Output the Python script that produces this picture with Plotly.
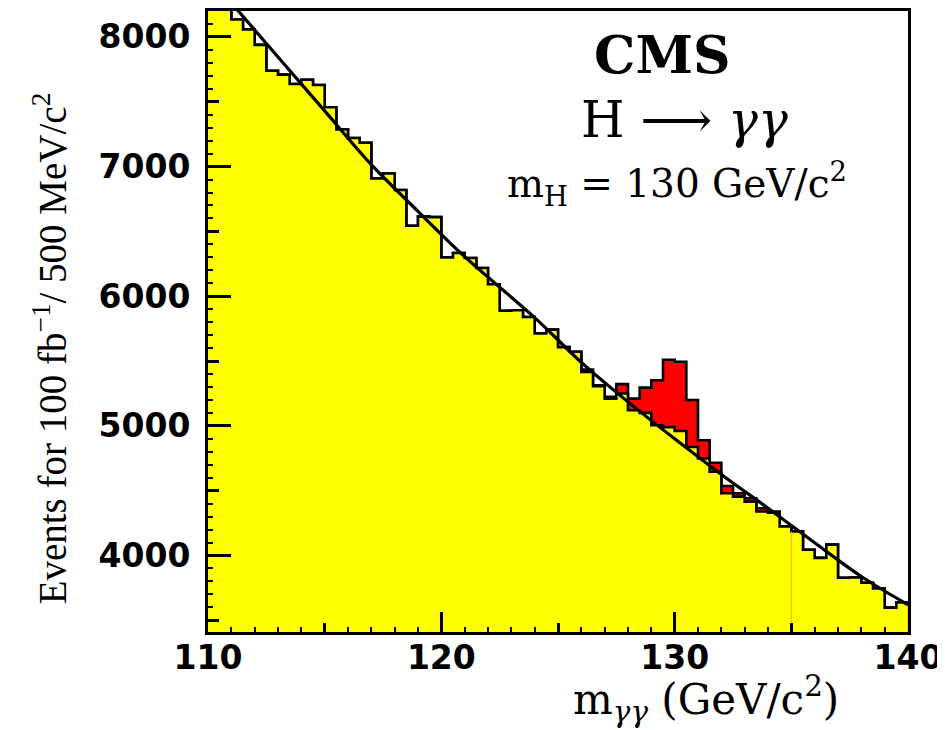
import plotly.graph_objects as go

# ---------------- data ----------------
bin_width = 0.5
mass_low = [110 + bin_width * i for i in range(60)]   # lower bin edges, GeV/c^2

background = [
    8350, 8260, 8135, 8058, 7939, 7739, 7709, 7637, 7670, 7629,
    7458, 7287, 7220, 7184, 6908, 6946, 6819, 6543, 6614, 6610,
    6300, 6333, 6295, 6218, 6092, 5888, 5892, 5840, 5713, 5742,
    5607, 5572, 5415, 5305, 5210, 5250, 5120, 5100, 5005, 4990,
    4960, 4837, 4748, 4646, 4480, 4454, 4416, 4340, 4331, 4224,
    4186, 4045, 3982, 4084, 3828, 3830, 3790, 3746, 3598, 3637,
]

signal = [
    0, 0, 0, 0, 0, 0, 0, 0, 0, 0,
    0, 0, 0, 0, 0, 0, 0, 0, 0, 0,
    0, 0, 0, 0, 0, 0, 0, 0, 0, 0,
    0, 0, 20, 8, 15, 72, 90, 195, 347, 520,
    535, 363, 141, 70, 56, 26, 26, 25, 8, 0,
    0, 0, 0, 0, 0, 0, 0, 0, 0, 0,
]

fit_mass = [110, 111.3, 113, 115, 117, 119, 121, 124, 126, 128, 130, 132, 134, 136, 138, 140]
fit_vals = [8480, 8200, 7845, 7430, 7015, 6655, 6305, 5835, 5490, 5185, 4900, 4625, 4365, 4098, 3838, 3620]

x_range = [110, 140]
y_range = [3410, 8200]
x_major = [110, 120, 130, 140]
x_medium = [115, 125, 135]
y_major = [4000, 5000, 6000, 7000, 8000]
y_medium = [3500, 4500, 5500, 6500, 7500]

# ---------------- build ----------------
total = [b + s for b, s in zip(background, signal)]
edges = mass_low + [mass_low[-1] + bin_width]

fig = go.Figure()

fig.add_trace(go.Scatter(
    x=edges, y=total + [total[-1]], mode="lines", line_shape="hv",
    line=dict(color="black", width=2.6), fill="tozeroy", fillcolor="#ff0000",
    hoverinfo="skip", showlegend=False))

fig.add_trace(go.Scatter(
    x=edges, y=background + [background[-1]], mode="lines", line_shape="hv",
    line=dict(color="black", width=2.6), fill="tozeroy", fillcolor="#ffff00",
    hoverinfo="skip", showlegend=False))

# thin orange seams inside the yellow fill
k35 = mass_low.index(135.0)
fig.add_trace(go.Scatter(
    x=[mass_low[k35], mass_low[k35], None, edges[-1], edges[-1]],
    y=[y_range[0], min(background[k35 - 1], background[k35]), None,
       y_range[0], background[-1]],
    mode="lines", line=dict(color="#ffb000", width=1),
    hoverinfo="skip", showlegend=False))

fig.add_trace(go.Scatter(
    x=fit_mass, y=fit_vals, mode="lines", line_shape="spline",
    line=dict(color="black", width=3.2), hoverinfo="skip", showlegend=False))

# invisible trace for the overlay axes (medium ticks)
fig.add_trace(go.Scatter(x=[x_range[0]], y=[y_range[0]], xaxis="x2", yaxis="y2",
                         mode="markers", marker=dict(opacity=0), hoverinfo="skip",
                         showlegend=False))

tickfont = dict(family="DejaVu Sans", size=33, color="black", weight="bold")
serif = "Liberation Serif, Times New Roman, Times, serif"
wide_serif = "DejaVu Serif, serif"

# the page body adds an 8px offset; the figure is sized to fill the rest
fig.update_layout(
    width=937, height=722,
    margin=dict(l=200, r=37, t=0, b=98, pad=0),
    paper_bgcolor="white", plot_bgcolor="white",
    xaxis=dict(range=x_range, showgrid=False, zeroline=False,
               showline=True, mirror=True, linecolor="black", linewidth=3,
               ticks="inside", tickvals=x_major, ticklen=20, tickwidth=2.5,
               tickcolor="black", tickfont=tickfont, ticklabelstandoff=-6,
               minor=dict(dtick=1, ticks="inside", ticklen=5, tickwidth=2,
                          tickcolor="black", showgrid=False)),
    yaxis=dict(range=y_range, showgrid=False, zeroline=False,
               showline=True, mirror=True, linecolor="black", linewidth=3,
               ticks="inside", tickvals=y_major, ticklen=23, tickwidth=2.5,
               tickcolor="black", tickfont=tickfont, ticklabelstandoff=8,
               minor=dict(dtick=100, ticks="inside", ticklen=5, tickwidth=2,
                          tickcolor="black", showgrid=False)),
    xaxis2=dict(range=x_range, overlaying="x", anchor="y2", side="bottom",
                showgrid=False, zeroline=False, showline=False,
                ticks="inside", tickvals=x_medium, ticklen=9, tickwidth=2.5,
                tickcolor="black", showticklabels=False),
    yaxis2=dict(range=y_range, overlaying="y", anchor="x2", side="left",
                showgrid=False, zeroline=False, showline=False,
                ticks="inside", tickvals=y_medium, ticklen=11, tickwidth=2.5,
                tickcolor="black", showticklabels=False),
)

# helpers: page pixel -> paper coordinate (plot area spans page x 208..908, y 8..632)
def px_x(px):
    return (px - 208) / 700.0

def px_y(py):
    return (632 - py) / 624.0

annots = [
    dict(text="<b>CMS</b>", x=px_x(662), y=px_y(52),
         font=dict(family=wide_serif, size=52, color="black")),
    dict(text="H \u27f6 <i>\u03b3\u03b3</i>", x=px_x(684), y=px_y(118),
         font=dict(family=wide_serif, size=50, color="black")),
    dict(text="m<sub>H</sub> = 130 GeV/c<sup>2</sup>", x=px_x(677), y=px_y(182),
         font=dict(family=wide_serif, size=39, color="black")),
    dict(text="m<sub><i>\u03b3\u03b3</i></sub> (GeV/c<sup>2</sup>)", x=px_x(706), y=px_y(699),
         font=dict(family=wide_serif, size=42, color="black")),
    dict(text="Events for 100 fb<sup>\u22121</sup>/ 500 MeV/c<sup>2</sup>",
         x=px_x(50), y=px_y(347), textangle=-90,
         font=dict(family=serif, size=39, color="black")),
]
for a in annots:
    fig.add_annotation(xref="paper", yref="paper", showarrow=False,
                       xanchor="center", yanchor="middle", **a)

fig.write_html("out.html")
